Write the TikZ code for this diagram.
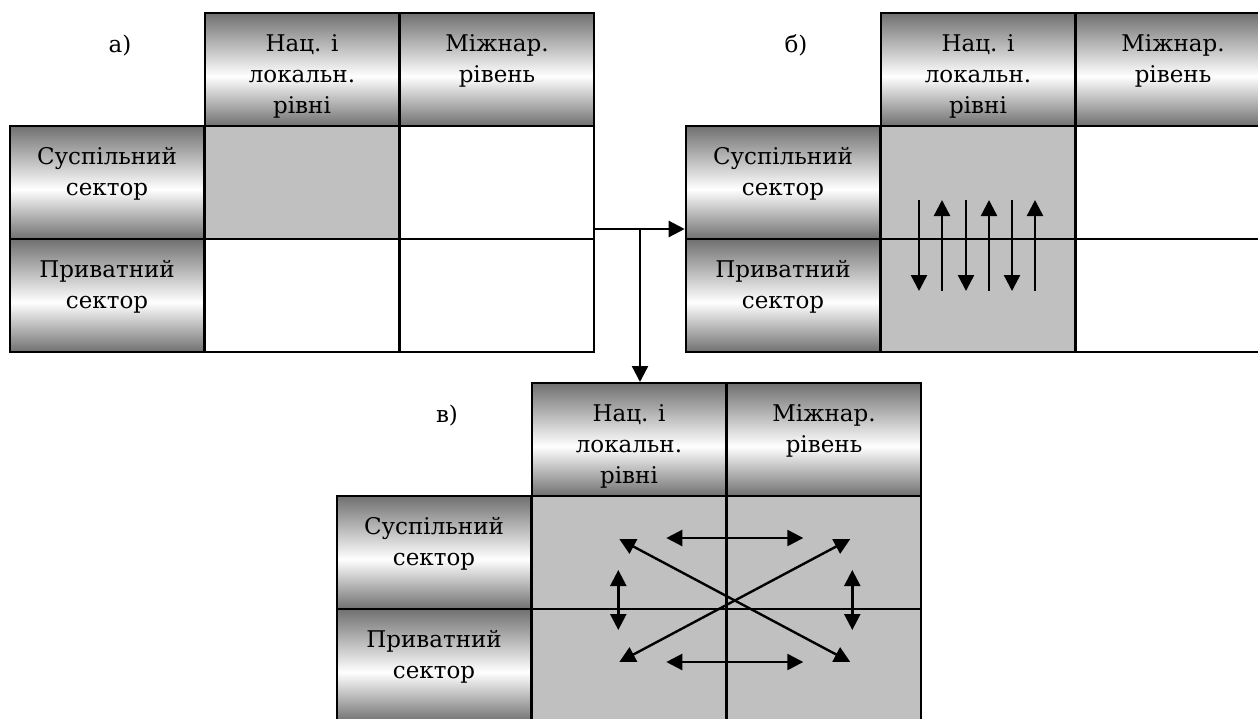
\documentclass[tikz,border=0pt]{standalone}
\usepackage{fontspec}
\setmainfont{DejaVu Serif}
\usetikzlibrary{arrows.meta}
\definecolor{steel}{RGB}{112,112,112}
\definecolor{cellgray}{RGB}{192,192,192}
\pgfdeclareverticalshading{metal}{100bp}{color(0bp)=(steel); color(25bp)=(steel); color(47bp)=(white); color(75bp)=(steel); color(100bp)=(steel)}

\begin{document}
\begin{tikzpicture}[x=0.5pt,y=-0.5pt,
  font=\fontsize{11.5pt}{15.5pt}\selectfont,
  cell/.style={draw,line width=1pt,minimum width=97.3pt,minimum height=56.5pt,inner sep=0pt},
  head/.style={cell,shading=metal},
  full/.style={cell,fill=cellgray},
  txt/.style={anchor=north,align=center,inner sep=0pt,yshift=-11pt},
  arr/.style={line width=1.2pt,-{Triangle[length=\l,width=\w]}},
  dbl/.style={line width=1.2pt,{Triangle[length=\l,width=\w]}-{Triangle[length=\l,width=\w]}}]
\def\l{8pt}
\def\w{8pt}
\useasboundingbox (0,0) rectangle (1258,718);

% table a
\node[anchor=base] (la) at (120,52) {а)};
\node[head,label={[txt]north:{Нац. і\\локальн.\\рівні}}] (ah1) at (302,69.5) {};
\node[head,label={[txt]north:{Міжнар.\\рівень}}] (ah2) at (497,69.5) {};
\node[head,label={[txt]north:{Суспільний\\сектор}}] (ar1) at (107,182.5) {};
\node[head,label={[txt]north:{Приватний\\сектор}}] (ar2) at (107,295.5) {};
\node[full] (a11) at (302,182.5) {};
\node[cell] (a12) at (497,182.5) {};
\node[cell] (a21) at (302,295.5) {};
\node[cell] (a22) at (497,295.5) {};

% table b
\node[anchor=base] (lb) at (796,52) {б)};
\node[head,label={[txt]north:{Нац. і\\локальн.\\рівні}}] (bh1) at (978,69.5) {};
\node[head,label={[txt]north:{Міжнар.\\рівень}}] (bh2) at (1173,69.5) {};
\node[head,label={[txt]north:{Суспільний\\сектор}}] (br1) at (783,182.5) {};
\node[head,label={[txt]north:{Приватний\\сектор}}] (br2) at (783,295.5) {};
\node[full] (b11) at (978,182.5) {};
\node[cell] (b12) at (1173,182.5) {};
\node[full] (b21) at (978,295.5) {};
\node[cell] (b22) at (1173,295.5) {};

% table c
\node[anchor=base] (lc) at (447,422) {в)};
\node[head,label={[txt]north:{Нац. і\\локальн.\\рівні}}] (ch1) at (629,439.5) {};
\node[head,label={[txt]north:{Міжнар.\\рівень}}] (ch2) at (824,439.5) {};
\node[head,label={[txt]north:{Суспільний\\сектор}}] (cr1) at (434,552.5) {};
\node[head,label={[txt]north:{Приватний\\сектор}}] (cr2) at (434,665.5) {};
\node[full] (c11) at (629,552.5) {};
\node[full] (c12) at (824,552.5) {};
\node[full] (c21) at (629,665.5) {};
\node[full] (c22) at (824,665.5) {};

% links between the tables
\coordinate (j) at (640,229);
\draw[arr] ([yshift=-23.25pt]a12.east) -- ([yshift=-23.25pt]br1.west);
\draw[arr] (j) -- (j |- ch1.north);

% flows in table b
\draw[arr] ([shift={(-59,-40)}]b11.south) -- ([shift={(-59,51)}]b11.south);
\draw[arr] ([shift={(-36,51)}]b11.south) -- ([shift={(-36,-40)}]b11.south);
\draw[arr] ([shift={(-12,-40)}]b11.south) -- ([shift={(-12,51)}]b11.south);
\draw[arr] ([shift={(11,51)}]b11.south) -- ([shift={(11,-40)}]b11.south);
\draw[arr] ([shift={(34,-40)}]b11.south) -- ([shift={(34,51)}]b11.south);
\draw[arr] ([shift={(57,51)}]b11.south) -- ([shift={(57,-40)}]b11.south);

% flows in table c
\draw[dbl] ([shift={(-61,-72)}]c11.south east) -- ([shift={(76,-72)}]c11.south east);
\draw[dbl] ([shift={(-61,52)}]c11.south east) -- ([shift={(76,52)}]c11.south east);
\draw[dbl] ([shift={(-108,-71)}]c11.south east) -- ([shift={(123,52)}]c11.south east);
\draw[dbl] ([shift={(123,-71)}]c11.south east) -- ([shift={(-108,52)}]c11.south east);
\draw[dbl] ([shift={(-109,-40)}]c11.south east) -- ([shift={(-109,20)}]c11.south east);
\draw[dbl] ([shift={(125,-40)}]c11.south east) -- ([shift={(125,20)}]c11.south east);
\end{tikzpicture}
\end{document}
